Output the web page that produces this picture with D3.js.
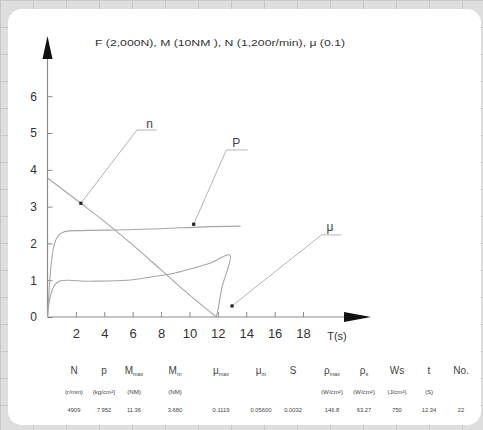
<!DOCTYPE html>
<html>
<head>
<meta charset="utf-8">
<script src="https://cdn.jsdelivr.net/npm/d3@7"></script>
<style>
  body { margin: 0; background: #fff; }
  svg { display: block; font-family: "Liberation Sans", Arial, sans-serif; }
</style>
</head>
<body>
<div id="chart"></div>
<script>
// time axis ticks (s) and value ticks
const xTicks = [2, 4, 6, 8, 10, 12, 14, 16, 18];
const yTicks = [0, 1, 2, 3, 4, 5, 6];

// speed n, falls from start to stop
const nCurve = [[0, 3.78], [2.35, 3.09], [4, 2.6], [6, 1.96], [8, 1.28], [10, 0.6], [11.9, 0]];
// power P
const pCurve = [[0, 0], [0.2, 1.2], [0.5, 2.0], [0.9, 2.26], [1.5, 2.34], [4, 2.36], [8, 2.4], [11, 2.45], [13.6, 2.47]];
// torque / friction curve, loops back at the end
const mCurve = [[0, 0], [0.3, 0.7], [0.76, 0.96], [3, 0.97], [5.6, 1.0], [7.2, 1.08], [8.8, 1.18], [10, 1.3], [11.5, 1.47], [12.85, 1.68], [12.3, 0.82], [12.05, 0.28], [11.9, 0]];

// labelled points: [name, dot, elbow, end, label]
const callouts = [
  ['n', [2.35, 3.09], [6.3, 5.08], [7.7, 5.08], [7.2, 5.25]],
  ['P', [10.3, 2.52], [12.6, 4.54], [14.1, 4.54], [13.3, 4.74]],
  ['\u03bc', [13.0, 0.3], [19.3, 2.23], [20.7, 2.23], [19.9, 2.45]]
];

const titleText = 'F (2,000N), M (10NM ), N (1,200r/min),  \u03bc  (0.1)';

// table at the bottom
const headMain = ['N', 'p', 'M', 'M', '\u03bc', '\u03bc', 'S', '\u03c1', '\u03c1', 'Ws', 't', 'No.'];
const headSub = ['', '', 'max', 'm', 'max', 'm', '', 'max', 's', '', '', ''];
const headUnits = ['(r/min)', '(kg/cm\u00b2)', '(NM)', '(NM)', '', '', '', '(W/cm\u00b2)', '(W/cm\u00b2)', '(J/cm\u00b2)', '(S)', ''];
const rowValues = ['4909', '7.952', '11.36', '3.680', '0.1119', '0.05600', '0.0032', '146.8', '63.27', '750', '12.34', '22'];
const colX = [74, 104, 134, 175, 221, 261, 293, 332, 364, 397, 429, 461];

const W = 483, H = 430;
const svg = d3.select('#chart').append('svg').attr('width', W).attr('height', H);

// graph paper behind the card
svg.append('rect').attr('width', W).attr('height', H).attr('fill', '#dedede');
const grid = svg.append('g').attr('stroke', '#c8c8c8').attr('stroke-width', 1);
d3.range(0, W, 33).forEach(x => grid.append('line').attr('x1', x + 0.5).attr('x2', x + 0.5).attr('y1', 0).attr('y2', H));
d3.range(0, H, 27).forEach(y => grid.append('line').attr('y1', y + 0.5).attr('y2', y + 0.5).attr('x1', 0).attr('x2', W));
svg.append('rect').attr('x', 8).attr('y', 9).attr('width', 473).attr('height', 416)
  .attr('rx', 14).attr('fill', '#fff');

const x = d3.scaleLinear().domain([0, 18]).range([47.5, 303]);
const y = d3.scaleLinear().domain([0, 6]).range([317, 96.2]);

// axes with arrows
const axisColor = '#8a8a8a';
svg.append('line').attr('x1', x(0)).attr('x2', 350).attr('y1', y(0)).attr('y2', y(0))
  .attr('stroke', axisColor).attr('stroke-width', 1.2);
svg.append('line').attr('x1', x(0)).attr('x2', x(0)).attr('y1', y(0)).attr('y2', 55)
  .attr('stroke', axisColor).attr('stroke-width', 1.2);
svg.append('path').attr('d', `M${x(0)},36 L${x(0) - 5},59 L${x(0) + 5},59 Z`).attr('fill', '#111');
svg.append('path').attr('d', `M371,${y(0)} L344,${y(0) - 5} L344,${y(0) + 5} Z`).attr('fill', '#111');

const xAxis = svg.append('g').attr('transform', `translate(0,${y(0)})`)
  .call(d3.axisBottom(x).tickValues(xTicks).tickSize(-5).tickPadding(12).tickFormat(d3.format('d')));
xAxis.select('.domain').remove();
xAxis.selectAll('line').attr('stroke', axisColor);
xAxis.selectAll('text').attr('font-size', 13).attr('fill', '#333').attr('font-family', 'Liberation Sans, Arial');

const yAxis = svg.append('g').attr('transform', `translate(${x(0)},0)`)
  .call(d3.axisRight(y).tickValues(yTicks).tickSize(5).tickFormat(d3.format('d')));
yAxis.select('.domain').remove();
yAxis.selectAll('line').attr('stroke', axisColor);
yAxis.selectAll('text').attr('x', -14).attr('text-anchor', 'middle')
  .attr('font-size', 12).attr('fill', '#333').attr('font-family', 'Liberation Sans, Arial');

svg.append('text').attr('x', 337).attr('y', 340).attr('text-anchor', 'middle')
  .attr('font-size', 11).attr('fill', '#333').text('T(s)');

// title
svg.append('text').attr('x', 95).attr('y', 46).attr('font-size', 9.5).attr('fill', '#333')
  .attr('textLength', 250).attr('lengthAdjust', 'spacingAndGlyphs').text(titleText);

// curves
const smooth = d3.line().x(d => x(d[0])).y(d => y(d[1])).curve(d3.curveMonotoneX);
const loop = d3.line().x(d => x(d[0])).y(d => y(d[1])).curve(d3.curveCatmullRom.alpha(0.5));
[[nCurve, smooth], [pCurve, smooth], [mCurve, loop]].forEach(([c, gen]) => {
  svg.append('path').datum(c).attr('d', gen).attr('fill', 'none')
    .attr('stroke', '#a6a6a6').attr('stroke-width', 1.1);
});

// callouts
callouts.forEach(([name, dot, elbow, end, lab]) => {
  svg.append('polyline')
    .attr('points', [dot, elbow, end].map(p => `${x(p[0])},${y(p[1])}`).join(' '))
    .attr('fill', 'none').attr('stroke', '#b5b5b5').attr('stroke-width', 1);
  svg.append('rect').attr('x', x(dot[0]) - 1.6).attr('y', y(dot[1]) - 1.6)
    .attr('width', 3.2).attr('height', 3.2).attr('fill', '#222');
  svg.append('text').attr('x', x(lab[0])).attr('y', y(lab[1]) + 4).attr('text-anchor', 'middle')
    .attr('font-size', 12).attr('fill', '#444').text(name);
});

// bottom table
const table = svg.append('g').attr('fill', '#444').attr('text-anchor', 'middle');
headMain.forEach((h, i) => {
  const t = table.append('text').attr('x', colX[i]).attr('y', 374).attr('font-size', 10);
  t.append('tspan').text(h);
  if (headSub[i]) t.append('tspan').attr('font-size', 5.5).attr('dy', 2).text(headSub[i]);
});
headUnits.forEach((u, i) => {
  if (!u) return;
  table.append('text').attr('x', colX[i]).attr('y', 394).attr('font-size', 6.2).text(u);
});
rowValues.forEach((v, i) => {
  table.append('text').attr('x', colX[i]).attr('y', 412).attr('font-size', 5.8).text(v);
});
</script>
</body>
</html>
